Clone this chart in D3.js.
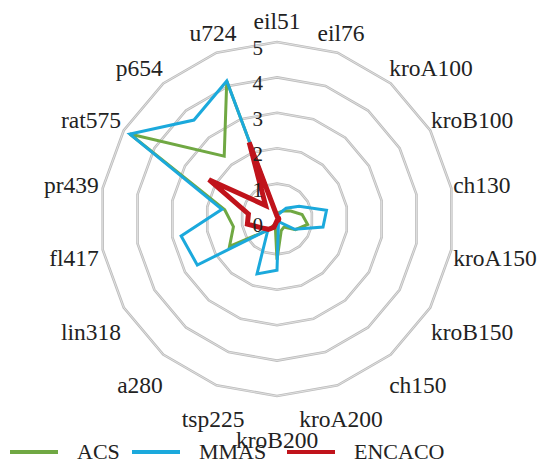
<!DOCTYPE html>
<html><head><meta charset="utf-8">
<script src="https://cdn.jsdelivr.net/npm/d3@7"></script>
</head><body style="margin:0">
<svg id="chart" width="540" height="463"></svg>
<script>
const categories = ["eil51","eil76","kroA100","kroB100","ch130","kroA150","kroB150","ch150","kroA200","kroB200","tsp225","a280","lin318","fl417","pr439","rat575","p654","u724"];
const acs    = [0.10,0.20,0.30,0.45,0.72,0.88,0.60,0.30,0.35,1.15,0.15,0.42,1.55,1.25,1.50,4.80,2.32,4.15];
const mmas   = [0.10,0.15,0.40,0.72,1.42,1.32,0.58,0.12,0.12,1.45,1.65,0.40,2.60,2.75,1.58,4.80,3.65,4.15];
const encaco = [0.08,0.05,0.05,0.05,0.05,0.05,0.05,0.05,0.05,0.05,0.25,0.38,0.50,0.85,0.82,2.22,0.50,2.30];
const seriesNames = ["ACS","MMAS","ENCACO"];
const tickValues = [0,1,2,3,4,5];

const series = [
  {name: seriesNames[0], values: acs, color: "#70a843", width: 3},
  {name: seriesNames[1], values: mmas, color: "#1ba9dc", width: 3},
  {name: seriesNames[2], values: encaco, color: "#c0131b", width: 5}
];

const FONT = '"Liberation Serif"';
const svg = d3.select("#chart");
const cx = 277, cy = 219, R = 177;
const n = categories.length;
const angle = d3.scalePoint().domain(categories).range([0, 2*Math.PI*(n-1)/n]);
const r = d3.scaleLinear().domain([0,5]).range([0,R]);
const g = svg.append("g").attr("transform", `translate(${cx},${cy})`);

const ringLine = d3.lineRadial().angle(d => angle(d[0])).radius(d => r(d[1])).curve(d3.curveLinearClosed);
tickValues.filter(v => v > 0).forEach(v => {
  const pts = categories.map(c => [c, v]);
  g.append("path").attr("d", ringLine(pts)).attr("fill","none").attr("stroke","#bdbdbd").attr("stroke-width",2.6);
  g.append("path").attr("d", ringLine(pts)).attr("fill","none").attr("stroke","#e9e9e9").attr("stroke-width",0.8);
});

series.forEach(s => {
  const pts = categories.map((c,i) => [c, s.values[i]]);
  g.append("path").attr("d", ringLine(pts)).attr("fill","none")
    .attr("stroke", s.color).attr("stroke-width", s.width).attr("stroke-linejoin","miter");
});

tickValues.forEach(v => {
  g.append("text").attr("x", -14).attr("y", -r(v) + 13)
    .attr("text-anchor","end").style("font-family",FONT).style("font-size","21px").attr("fill","#222")
    .text(v);
});

const pad = 10, fs = 23.5;
categories.forEach((c,i) => {
  const a = angle(c), s = Math.sin(a), co = Math.cos(a);
  const px = (R+pad)*s, py = -(R+pad)*co;
  const t = g.append("text").style("font-family",FONT).style("font-size", fs+"px").attr("fill","#222").text(c);
  let anchor, x;
  if (Math.abs(s) < 0.5) { anchor = "middle"; x = px; }
  else if (s > 0) { anchor = "start"; x = px - 8; }
  else { anchor = "end"; x = px + 6; }
  let yc = py - co*11;
  if (co < 0) yc += Math.min(1, -co*2)*14;
  if (Math.abs(s) < 0.01 && co < 0) yc += 9;
  t.attr("text-anchor", anchor).attr("x", x).attr("y", yc + fs*0.35);
});

const legendX = [10, 132, 287];
const ly = 452;
series.forEach((s,i) => {
  svg.append("line").attr("x1", legendX[i]).attr("x2", legendX[i]+48).attr("y1", ly).attr("y2", ly)
    .attr("stroke", s.color).attr("stroke-width", 4);
  svg.append("text").attr("x", legendX[i]+67).attr("y", ly+7)
    .style("font-family",FONT).style("font-size","22px").attr("fill","#222").text(s.name);
});
</script>
</body></html>
